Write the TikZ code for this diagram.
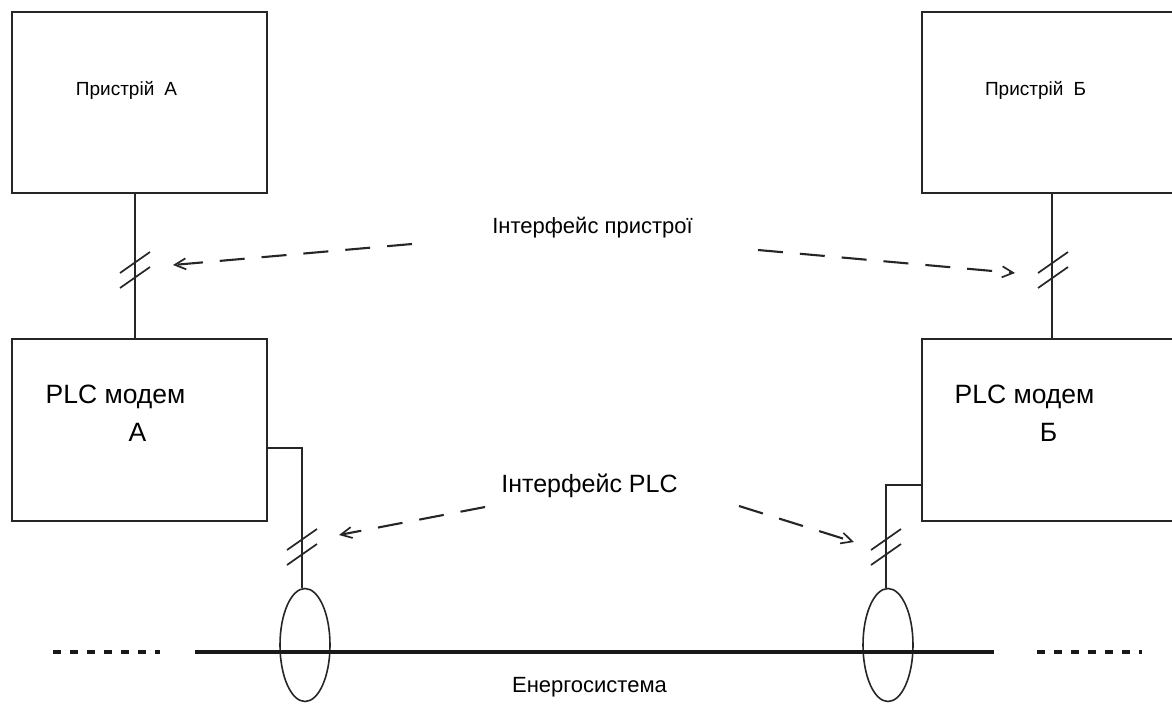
\documentclass[tikz,border=0pt]{standalone}
\usepackage{fontspec}
\setmainfont{Liberation Sans}
\usetikzlibrary{arrows.meta,shapes.geometric,calc}
\begin{document}
\begin{tikzpicture}[x=1pt,y=-1pt,
  box/.style={draw=black!85,line width=2pt,rectangle,inner sep=0pt,outer sep=0pt},
  wire/.style={draw=black!85,line width=1.8pt},
  slash/.style={draw=black!85,line width=1.7pt},
  ptr/.style={draw=black!85,line width=2.1pt,dash pattern=on 25pt off 17pt,-{Straight Barb[length=11pt,width=11pt,line width=1.7pt]}},
  ring/.style={draw=black!85,line width=1.6pt,ellipse,inner sep=0pt,minimum width=50pt,minimum height=113pt},
  power/.style={draw=black!90,line width=4pt},
  powerdash/.style={draw=black!90,line width=4pt,dash pattern=on 8pt off 9pt},
  lbl/.style={inner sep=0pt,text=black,anchor=base}]
\useasboundingbox[fill=white] (0,0) rectangle (1172,704);

% boxes
\node[box,minimum width=255pt,minimum height=181pt] (devA) at (139.5,102.5) {};
\node[box,minimum width=268pt,minimum height=181pt] (devB) at (1056,102.5) {};
\node[box,minimum width=255pt,minimum height=182pt] (plcA) at (139.5,430) {};
\node[box,minimum width=268pt,minimum height=182pt] (plcB) at (1056,430) {};

% texts
\node[lbl,font=\fontsize{19}{22}\selectfont] (tDevA) at (126.5,95) {Пристрій\hspace{10pt}А};
\node[lbl,font=\fontsize{19}{22}\selectfont] (tDevB) at (1035.5,95) {Пристрій\hspace{10pt}Б};
\node[lbl,font=\fontsize{26.5}{30}\selectfont] (tPlcA1) at (115.5,403) {PLC модем};
\node[lbl,font=\fontsize{26.5}{30}\selectfont] (tPlcA2) at (137.5,441) {А};
\node[lbl,font=\fontsize{26.5}{30}\selectfont] (tPlcB1) at (1024.5,403) {PLC модем};
\node[lbl,font=\fontsize{26.5}{30}\selectfont] (tPlcB2) at (1048.5,441) {Б};
\node[lbl,font=\fontsize{22}{26}\selectfont] (ifDev) at (592.5,233) {Інтерфейс пристрої};
\node[lbl,font=\fontsize{25}{29}\selectfont] (ifPlc) at (589.5,492) {Інтерфейс PLC};
\node[lbl,font=\fontsize{22}{26}\selectfont] (grid) at (589.5,692) {Енергосистема};

% vertical device links
\coordinate (xA) at (135,0);
\coordinate (xB) at (1052,0);
\draw[wire] (xA |- devA.south) -- (xA |- plcA.north);
\draw[wire] (xB |- devB.south) -- (xB |- plcB.north);

% ellipses
\node[ring] (ringA) at (305,645) {};
\node[ring] (ringB) at (888,645) {};

% PLC links
\coordinate (cA) at (302,448);
\coordinate (cB) at (886,485);
\draw[wire] (plcA.east |- cA) -- (cA) -- (cA |- ringA.north);
\draw[wire] (plcB.west |- cB) -- (cB) -- (cB |- ringB.north);

% slash marks
\foreach \x/\y in {135/273,135/288,1053/273,1053/288,302/550,302/565,886/550,886/565}{
  \draw[slash] (\x-15,\y) -- (\x+15,\y-21);
}

% pointers
\coordinate (pA1) at (412,244);
\coordinate (pA2) at (173,265);
\coordinate (pB1) at (758,250);
\coordinate (pB2) at (1015,273);
\coordinate (pC1) at (485,507);
\coordinate (pC2) at (339,535);
\coordinate (pD1) at (739,506);
\coordinate (pD2) at (854,542);
\draw[ptr] (pA1) -- (pA2);
\draw[ptr] (pB1) -- (pB2);
\draw[ptr] (pC1) -- (pC2);
\draw[ptr] (pD1) -- (pD2);

% power line
\coordinate (g1) at (195,652);
\coordinate (g2) at (994,652);
\coordinate (d1) at (53,652);
\coordinate (d2) at (160,652);
\coordinate (d3) at (1037,652);
\coordinate (d4) at (1142,652);
\draw[power] (g1) -- (g2);
\draw[powerdash] (d1) -- (d2);
\draw[powerdash] (d3) -- (d4);
\end{tikzpicture}
\end{document}
